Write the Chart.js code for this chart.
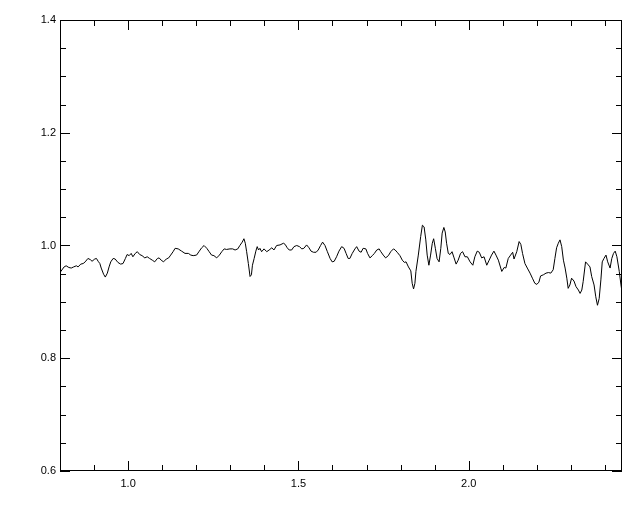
<!DOCTYPE html>
<html>
<head>
<meta charset="utf-8">
<script src="https://cdn.jsdelivr.net/npm/chart.js@4/dist/chart.umd.min.js"></script>
<style>
  html, body { margin: 0; padding: 0; background: #fff; }
  #wrap { width: 640px; height: 512px; }
</style>
</head>
<body>
<div id="wrap"><canvas id="chart" width="640" height="512"></canvas></div>
<script>
// spectrum trace
const xVals = [
  0.800, 0.812, 0.818, 0.826, 0.833, 0.840, 0.848, 0.853, 0.861, 0.868,
  0.874, 0.882, 0.889, 0.894, 0.902, 0.907, 0.912, 0.917, 0.921, 0.928,
  0.933, 0.939, 0.944, 0.949, 0.956, 0.962, 0.970, 0.978, 0.985, 0.992,
  0.997, 1.003, 1.009, 1.014, 1.021, 1.027, 1.034, 1.041, 1.049, 1.056,
  1.063, 1.071, 1.078, 1.086, 1.091, 1.097, 1.104, 1.112, 1.119, 1.125,
  1.132, 1.138, 1.147, 1.157, 1.167, 1.177, 1.184, 1.191, 1.201, 1.209,
  1.216, 1.223, 1.231, 1.238, 1.245, 1.252, 1.260, 1.268, 1.275, 1.282,
  1.289, 1.299, 1.307, 1.314, 1.322, 1.328, 1.335, 1.340, 1.344, 1.348,
  1.353, 1.358, 1.362, 1.365, 1.370, 1.375, 1.379, 1.383, 1.387, 1.392,
  1.399, 1.407, 1.414, 1.422, 1.428, 1.436, 1.446, 1.456, 1.461, 1.467,
  1.473, 1.480, 1.487, 1.495, 1.503, 1.510, 1.516, 1.524, 1.531, 1.537,
  1.544, 1.552, 1.558, 1.565, 1.571, 1.578, 1.585, 1.593, 1.599, 1.605,
  1.612, 1.619, 1.627, 1.634, 1.640, 1.646, 1.651, 1.658, 1.666, 1.671,
  1.678, 1.684, 1.690, 1.698, 1.703, 1.710, 1.717, 1.723, 1.730, 1.737,
  1.742, 1.749, 1.756, 1.764, 1.771, 1.779, 1.784, 1.790, 1.798, 1.805,
  1.811, 1.816, 1.823, 1.830, 1.834, 1.838, 1.842, 1.845, 1.852, 1.859,
  1.864, 1.869, 1.874, 1.878, 1.883, 1.888, 1.893, 1.897, 1.902, 1.907,
  1.913, 1.918, 1.922, 1.927, 1.931, 1.935, 1.940, 1.945, 1.951, 1.957,
  1.963, 1.969, 1.976, 1.982, 1.989, 1.996, 2.004, 2.012, 2.018, 2.025,
  2.031, 2.038, 2.045, 2.053, 2.060, 2.067, 2.074, 2.080, 2.087, 2.094,
  2.097, 2.104, 2.109, 2.116, 2.123, 2.129, 2.133, 2.141, 2.148, 2.153,
  2.158, 2.165, 2.172, 2.180, 2.187, 2.194, 2.200, 2.206, 2.211, 2.219,
  2.227, 2.234, 2.241, 2.248, 2.253, 2.258, 2.263, 2.268, 2.273, 2.278,
  2.283, 2.288, 2.292, 2.297, 2.302, 2.309, 2.315, 2.322, 2.327, 2.332,
  2.336, 2.343, 2.349, 2.356, 2.361, 2.368, 2.373, 2.378, 2.383, 2.388,
  2.392, 2.397, 2.403, 2.408, 2.415, 2.420, 2.425, 2.430, 2.435, 2.442,
  2.447, 2.450
];
const yVals = [
  0.952, 0.962, 0.964, 0.961, 0.960, 0.962, 0.964, 0.962, 0.967, 0.968,
  0.971, 0.977, 0.975, 0.972, 0.976, 0.977, 0.972, 0.968, 0.960, 0.949,
  0.944, 0.951, 0.962, 0.971, 0.977, 0.976, 0.970, 0.967, 0.968, 0.977,
  0.984, 0.982, 0.986, 0.980, 0.986, 0.989, 0.984, 0.982, 0.978, 0.980,
  0.977, 0.974, 0.971, 0.977, 0.978, 0.974, 0.971, 0.976, 0.978, 0.983,
  0.989, 0.995, 0.994, 0.990, 0.986, 0.986, 0.983, 0.982, 0.983, 0.990,
  0.996, 1.000, 0.995, 0.989, 0.983, 0.982, 0.978, 0.983, 0.989, 0.994,
  0.993, 0.994, 0.994, 0.992, 0.994, 1.000, 1.006, 1.012, 1.004, 0.989,
  0.968, 0.945, 0.948, 0.965, 0.977, 0.990, 0.998, 0.992, 0.995, 0.989,
  0.994, 0.989, 0.992, 0.996, 0.992, 1.000, 1.001, 1.004, 1.002, 0.996,
  0.992, 0.992, 0.998, 1.000, 0.998, 0.994, 0.995, 1.001, 0.996, 0.990,
  0.988, 0.988, 0.992, 1.000, 1.006, 1.000, 0.989, 0.977, 0.971, 0.972,
  0.980, 0.990, 0.998, 0.995, 0.986, 0.977, 0.977, 0.986, 0.994, 0.998,
  0.990, 0.988, 0.995, 0.994, 0.986, 0.978, 0.982, 0.986, 0.992, 0.994,
  0.989, 0.983, 0.978, 0.982, 0.989, 0.994, 0.992, 0.988, 0.982, 0.974,
  0.970, 0.971, 0.962, 0.955, 0.933, 0.923, 0.933, 0.954, 0.983, 1.016,
  1.036, 1.033, 1.010, 0.983, 0.965, 0.983, 1.004, 1.012, 0.995, 0.977,
  0.971, 0.995, 1.022, 1.032, 1.024, 1.004, 0.986, 0.984, 0.989, 0.978,
  0.967, 0.974, 0.986, 0.989, 0.980, 0.980, 0.971, 0.965, 0.980, 0.990,
  0.988, 0.978, 0.980, 0.965, 0.974, 0.983, 0.990, 0.983, 0.974, 0.960,
  0.954, 0.961, 0.960, 0.977, 0.983, 0.988, 0.976, 0.989, 1.007, 1.002,
  0.986, 0.968, 0.960, 0.951, 0.942, 0.933, 0.931, 0.935, 0.946, 0.948,
  0.951, 0.952, 0.951, 0.957, 0.977, 0.996, 1.004, 1.010, 0.998, 0.974,
  0.960, 0.942, 0.924, 0.930, 0.942, 0.937, 0.927, 0.921, 0.915, 0.921,
  0.936, 0.971, 0.967, 0.962, 0.945, 0.930, 0.909, 0.894, 0.906, 0.939,
  0.971, 0.977, 0.983, 0.971, 0.960, 0.977, 0.986, 0.990, 0.980, 0.954,
  0.930, 0.918
];

// axis ticks
const xMajorTicks = [1.0, 1.5, 2.0];
const xMinorTicks = [0.9, 1.1, 1.2, 1.3, 1.4, 1.6, 1.7, 1.8, 1.9, 2.1, 2.2, 2.3, 2.4];
const yMajorTicks = [0.6, 0.8, 1.0, 1.2, 1.4];
const yMinorTicks = [0.65, 0.7, 0.75, 0.85, 0.9, 0.95, 1.05, 1.1, 1.15, 1.25, 1.3, 1.35];

const tickFont = { family: "'Liberation Sans', Arial, sans-serif", size: 11 };

// IDL-style box with inward ticks on all four sides
const boxTicks = {
    id: 'boxTicks',
    afterDraw(chart) {
        const { ctx, chartArea: a, scales } = chart;
        ctx.save();
        ctx.strokeStyle = '#000';
        ctx.lineWidth = 1;
        ctx.strokeRect(a.left + 0.5, a.top + 0.5, a.right - a.left - 1, a.bottom - a.top - 1);

        ctx.beginPath();
        const xTick = (v, len) => {
            const px = Math.round(scales.x.getPixelForValue(v)) + 0.5;
            ctx.moveTo(px, a.bottom); ctx.lineTo(px, a.bottom - len);
            ctx.moveTo(px, a.top); ctx.lineTo(px, a.top + len);
        };
        const yTick = (v, len) => {
            const py = Math.round(scales.y.getPixelForValue(v)) + 0.5;
            ctx.moveTo(a.left, py); ctx.lineTo(a.left + len, py);
            ctx.moveTo(a.right, py); ctx.lineTo(a.right - len, py);
        };
        xMajorTicks.forEach(v => xTick(v, 10));
        xMinorTicks.forEach(v => xTick(v, 6));
        yMajorTicks.forEach(v => yTick(v, 10));
        yMinorTicks.forEach(v => yTick(v, 6));
        ctx.stroke();
        ctx.restore();
    }
};

new Chart(document.getElementById('chart'), {
    type: 'line',
    data: {
        datasets: [{
            data: xVals.map((x, i) => ({ x, y: yVals[i] })),
            borderColor: '#000',
            borderWidth: 1,
            pointRadius: 0,
            tension: 0,
            fill: false
        }]
    },
    options: {
        responsive: false,
        animation: false,
        parsing: false,
        layout: { padding: { top: 20, right: 18, left: 0, bottom: 0 } },
        plugins: {
            legend: { display: false },
            tooltip: { enabled: false }
        },
        scales: {
            x: {
                type: 'linear',
                min: 0.8,
                max: 2.45,
                afterBuildTicks: s => { s.ticks = xMajorTicks.map(v => ({ value: v })); },
                afterFit: s => { s.height = 41; },
                grid: { display: false, drawTicks: false },
                border: { display: false },
                ticks: {
                    color: '#000',
                    font: tickFont,
                    padding: 6,
                    maxRotation: 0,
                    autoSkip: false,
                    callback: v => v.toFixed(1)
                }
            },
            y: {
                type: 'linear',
                min: 0.6,
                max: 1.4,
                afterBuildTicks: s => { s.ticks = yMajorTicks.map(v => ({ value: v })); },
                afterFit: s => { s.width = 60; },
                grid: { display: false, drawTicks: false },
                border: { display: false },
                ticks: {
                    color: '#000',
                    font: tickFont,
                    padding: 4,
                    autoSkip: false,
                    callback: v => v.toFixed(1)
                }
            }
        }
    },
    plugins: [boxTicks]
});
</script>
</body>
</html>
